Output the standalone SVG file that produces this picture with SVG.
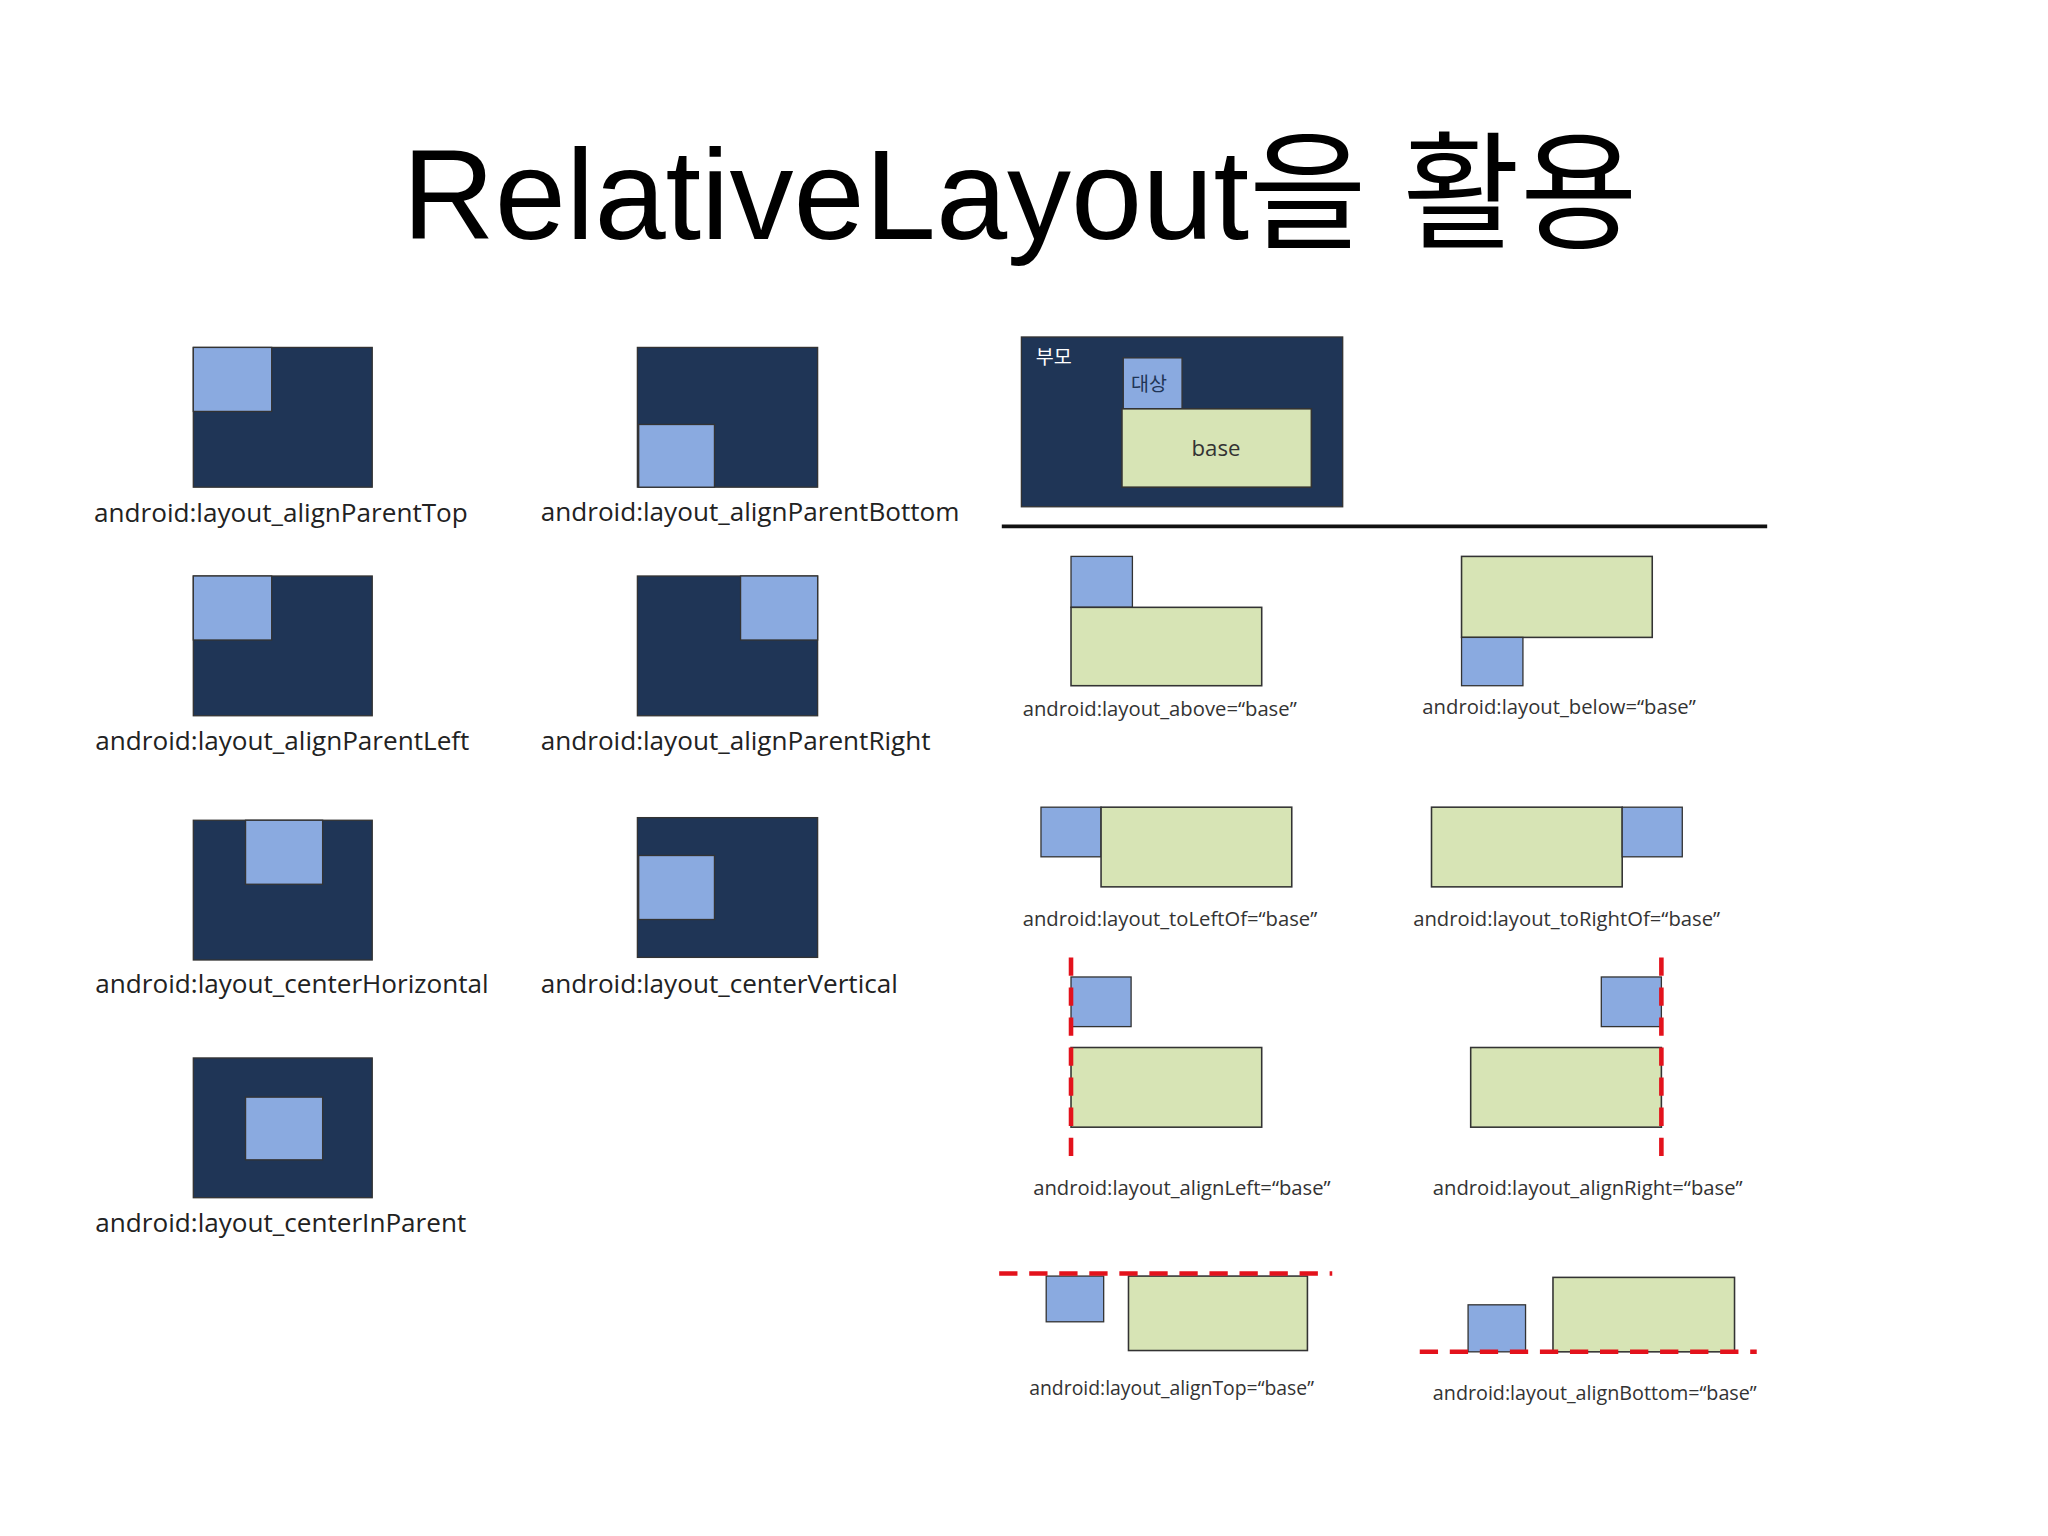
<svg xmlns="http://www.w3.org/2000/svg" width="2048" height="1536" viewBox="0 0 2048 1536">
<style>
.bg{fill:#fff}
.dk{fill:#1f3556;stroke:#333;stroke-width:1}
.lb{fill:#8aaae0;stroke:#333;stroke-width:1}
.gr{fill:#d7e4b5;stroke:#333;stroke-width:1.2}
.lbl{font-family:"Open Sans","Noto Sans",sans-serif;font-size:20px;fill:#222}
.sl{font-family:"Open Sans","Noto Sans",sans-serif;font-size:15.5px;fill:#333}
.red{stroke:#e3121c;stroke-width:3.5;stroke-dasharray:14,9;fill:none}
</style>
<rect class="bg" width="2048" height="1536"/>
<g transform="scale(1.30612)">
<text x="781" y="183" text-anchor="middle" font-family="'Liberation Sans','Noto Sans CJK KR',sans-serif" font-size="98" fill="#000">RelativeLayout을 활용</text>
<g id="n1"><rect class="dk" x="148" y="266" width="137" height="107"/><rect class="lb" x="148" y="266" width="60" height="49"/><text class="lbl" x="72" y="400">android:layout_alignParentTop</text></g>
<g id="n2"><rect class="dk" x="488" y="266" width="138" height="107"/><rect class="lb" x="489" y="325" width="58" height="48"/><text class="lbl" x="414" y="399">android:layout_alignParentBottom</text></g>
<g id="n3"><rect class="dk" x="148" y="441" width="137" height="107"/><rect class="lb" x="148" y="441" width="60" height="49"/><text class="lbl" x="73" y="574">android:layout_alignParentLeft</text></g>
<g id="n4"><rect class="dk" x="488" y="441" width="138" height="107"/><rect class="lb" x="567" y="441" width="59" height="49"/><text class="lbl" x="414" y="574">android:layout_alignParentRight</text></g>
<g id="n5"><rect class="dk" x="148" y="628" width="137" height="107"/><rect class="lb" x="188" y="628" width="59" height="49"/><text class="lbl" x="73" y="760">android:layout_centerHorizontal</text></g>
<g id="n6"><rect class="dk" x="488" y="626" width="138" height="107"/><rect class="lb" x="489" y="655" width="58" height="49"/><text class="lbl" x="414" y="760">android:layout_centerVertical</text></g>
<g id="n7"><rect class="dk" x="148" y="810" width="137" height="107"/><rect class="lb" x="188" y="840" width="59" height="48"/><text class="lbl" x="73" y="943">android:layout_centerInParent</text></g>
<g id="parent"><rect class="dk" x="782" y="258" width="246" height="130"/><text x="793" y="279" font-family="'Noto Sans CJK KR',sans-serif" font-size="15" fill="#fff">부모</text><rect class="lb" x="860" y="274" width="45" height="39"/><text x="866" y="299" font-family="'Noto Sans CJK KR',sans-serif" font-size="15" fill="#1f3556">대상</text><rect class="gr" x="859" y="313" width="145" height="60"/><text x="931" y="349" text-anchor="middle" font-family="'Open Sans',sans-serif" font-size="17" fill="#333">base</text></g>
<line x1="767" y1="403" x2="1353" y2="403" stroke="#111" stroke-width="3"/>
<g id="above"><rect class="lb" x="820" y="426" width="47" height="39"/><rect class="gr" x="820" y="465" width="146" height="60"/><text class="sl" x="783" y="548">android:layout_above=“base”</text></g>
<g id="below"><rect class="gr" x="1119" y="426" width="146" height="62"/><rect class="lb" x="1119" y="488" width="47" height="37"/><text class="sl" x="1089" y="547">android:layout_below=“base”</text></g>
<g id="toLeftOf"><rect class="lb" x="797" y="618" width="46" height="38"/><rect class="gr" x="843" y="618" width="146" height="61"/><text class="sl" x="783" y="709">android:layout_toLeftOf=“base”</text></g>
<g id="toRightOf"><rect class="gr" x="1096" y="618" width="146" height="61"/><rect class="lb" x="1242" y="618" width="46" height="38"/><text class="sl" x="1082" y="709">android:layout_toRightOf=“base”</text></g>
<g id="alignLeft"><rect class="lb" x="820" y="748" width="46" height="38"/><rect class="gr" x="820" y="802" width="146" height="61"/><line class="red" x1="820" y1="733" x2="820" y2="886"/><text class="sl" x="791" y="915">android:layout_alignLeft=“base”</text></g>
<g id="alignRight"><rect class="lb" x="1226" y="748" width="46" height="38"/><rect class="gr" x="1126" y="802" width="146" height="61"/><line class="red" x1="1272" y1="733" x2="1272" y2="886"/><text class="sl" x="1097" y="915">android:layout_alignRight=“base”</text></g>
<g id="alignTop"><rect class="lb" x="801" y="977" width="44" height="35"/><rect class="gr" x="864" y="977" width="137" height="57"/><line class="red" x1="765" y1="975" x2="1020" y2="975"/><text class="sl" x="788" y="1068" fill="#555" textLength="218" lengthAdjust="spacingAndGlyphs">android:layout_alignTop=“base”</text></g>
<g id="alignBottom"><rect class="lb" x="1124" y="999" width="44" height="36"/><rect class="gr" x="1189" y="978" width="139" height="57"/><line class="red" x1="1087" y1="1035" x2="1345" y2="1035"/><text class="sl" x="1097" y="1072" fill="#555" textLength="248" lengthAdjust="spacingAndGlyphs">android:layout_alignBottom=“base”</text></g>
</g>
</svg>
